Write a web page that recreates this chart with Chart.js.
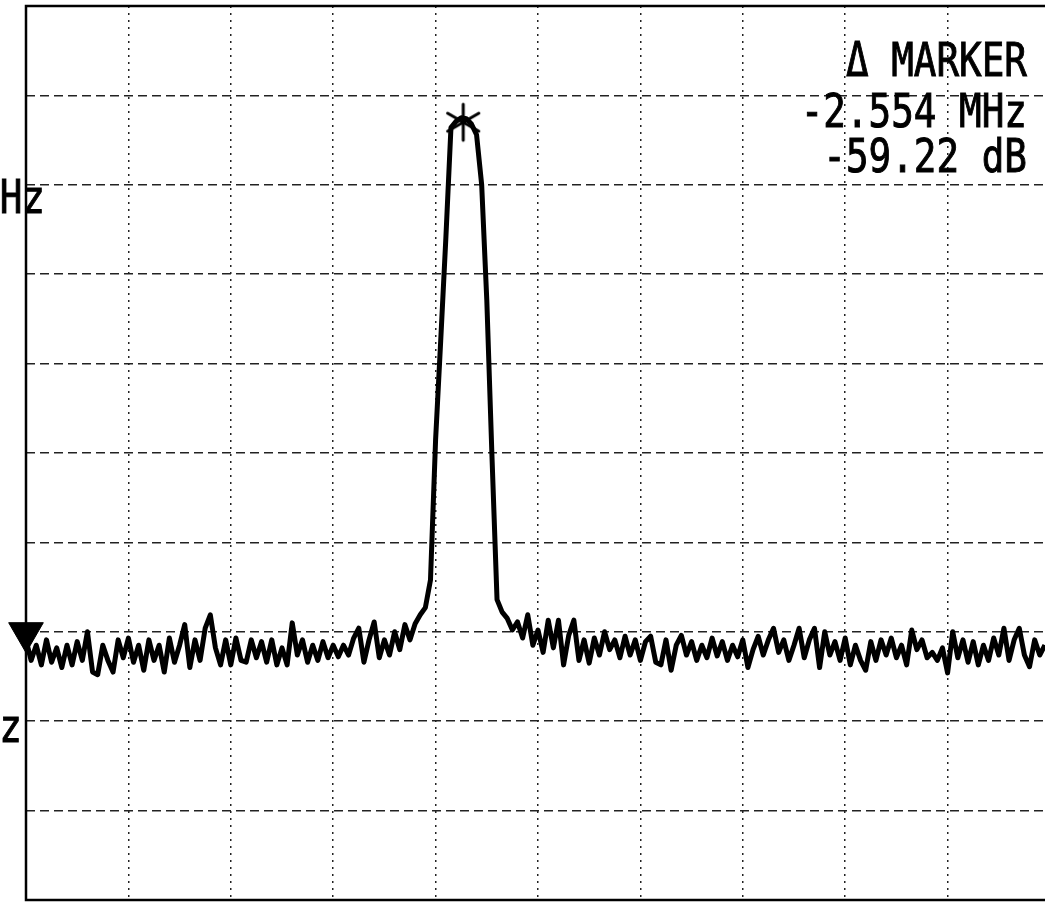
<!DOCTYPE html>
<html>
<head>
<meta charset="utf-8">
<script src="https://cdn.jsdelivr.net/npm/chart.js@4/dist/chart.umd.min.js"></script>
<style>
  html, body { margin: 0; padding: 0; background: #fff; overflow: hidden; }
  #wrap { width: 1060px; height: 905px; }
</style>
</head>
<body>
<div id="wrap"><canvas id="spectrum" width="1060" height="905"></canvas></div>
<script>
// screen is 10 x 10 divisions, 10 dB per division, top line is the reference level
var X_DIVS = 10;
var REF_LEVEL = 0;
var DB_PER_DIV = 10;
var SWEEP_STEP = 0.05; // divisions between trace samples

// trace levels (dB), one every SWEEP_STEP division
var traceDb = [
  -70.9, -73.2, -71.5, -73.7, -70.9, -73.4, -71.8, -74.0, -71.5, -73.7,
  -71.1, -73.2, -70.0, -74.5, -74.8, -71.5, -73.2, -74.5, -70.9, -72.9,
  -70.7, -73.4, -71.5, -74.3, -70.9, -73.2, -71.5, -74.5, -70.7, -73.4,
  -71.5, -69.2, -74.0, -70.9, -73.2, -69.6, -68.1, -71.8, -73.7, -70.9,
  -73.7, -70.7, -73.2, -73.4, -70.9, -72.9, -71.1, -73.4, -70.9, -73.7,
  -71.8, -73.7, -69.0, -72.6, -70.9, -73.4, -71.5, -73.2, -71.1, -72.9,
  -71.5, -72.8, -71.5, -72.6, -70.7, -69.6, -73.4, -70.9, -68.9, -72.9,
  -70.9, -72.6, -70.0, -72.0, -69.2, -70.9, -69.1, -68.1, -67.3, -64.2,
  -48.5, -37.4, -26.0, -13.6, -12.9, -12.5, -12.6, -13.2, -14.4, -20.0,
  -32.9, -50.2, -66.4, -67.8, -68.5, -69.8, -68.9, -70.7, -68.1, -71.5,
  -69.8, -72.3, -68.7, -71.8, -68.7, -73.7, -70.4, -68.7, -73.2, -70.9,
  -73.5, -70.7, -72.6, -70.0, -72.0, -70.9, -72.9, -70.5, -72.6, -70.9,
  -73.2, -71.1, -70.5, -73.4, -73.7, -70.9, -74.3, -71.5, -70.4, -72.6,
  -71.1, -73.2, -71.5, -72.9, -70.7, -72.7, -71.1, -73.2, -71.5, -72.8,
  -70.9, -74.0, -72.0, -70.5, -72.6, -70.9, -69.6, -72.3, -70.9, -73.2,
  -71.5, -69.6, -72.9, -70.9, -69.6, -74.0, -70.0, -72.6, -71.1, -73.2,
  -70.7, -73.7, -71.5, -73.2, -74.3, -71.1, -73.2, -70.9, -72.6, -70.7,
  -72.9, -71.5, -73.7, -69.8, -72.0, -70.9, -72.9, -72.3, -73.2, -71.8,
  -74.6, -70.0, -72.9, -70.9, -73.4, -71.1, -73.7, -71.5, -73.2, -70.7,
  -72.6, -69.6, -73.2, -70.9, -69.6, -72.6, -73.9, -70.9, -72.6, -71.5
];

// markers
var peakMarker = { x: 4.27, y: -13.0 };
var refMarker = { x: 0, y: -70.1 };

// readout texts
var markerLines = ['\u0394 MARKER', '-2.554 MHz', '-59.22 dB'];
var leftLabels = ['MHz', 'kHz'];

function traceData() {
  var pts = [];
  traceDb.forEach(function (v, i) {
    pts.push({ x: i * SWEEP_STEP, y: v });
  });
  return pts;
}

// asterisk used by the analyzer for the active marker
function makeAsterisk() {
  var c = document.createElement('canvas');
  c.width = 44; c.height = 44;
  var g = c.getContext('2d');
  g.strokeStyle = '#000';
  g.lineWidth = 3;
  g.lineCap = 'round';
  [90, 30, 150].forEach(function (deg) {
    var a = deg * Math.PI / 180;
    var dx = Math.cos(a) * 18, dy = Math.sin(a) * 18;
    g.beginPath();
    g.moveTo(22 - dx, 22 - dy);
    g.lineTo(22 + dx, 22 + dy);
    g.stroke();
  });
  return c;
}

var framePlugin = {
  id: 'frame',
  beforeDatasetsDraw: function (chart) {
    var a = chart.chartArea, ctx = chart.ctx;
    ctx.save();
    ctx.strokeStyle = '#000';
    ctx.lineWidth = 2.5;
    ctx.strokeRect(a.left, a.top, a.right - a.left, a.bottom - a.top);
    ctx.restore();
  }
};

var readoutPlugin = {
  id: 'readout',
  afterDraw: function (chart) {
    var ctx = chart.ctx;
    var sx = 0.8;
    ctx.save();
    ctx.fillStyle = '#000';
    ctx.strokeStyle = '#000';
    ctx.lineWidth = 1;
    ctx.font = "47px 'DejaVu Sans Mono'";
    ctx.textBaseline = 'alphabetic';
    ctx.textAlign = 'right';
    ctx.scale(sx, 1);
    var base = [76, 127, 172];
    markerLines.forEach(function (t, i) {
      ctx.fillText(t, 1027 / sx, base[i]);
      ctx.strokeText(t, 1027 / sx, base[i]);
    });
    ctx.fillText(leftLabels[0], 45 / sx, 213);
    ctx.strokeText(leftLabels[0], 45 / sx, 213);
    ctx.fillText(leftLabels[1], 22 / sx, 742);
    ctx.strokeText(leftLabels[1], 22 / sx, 742);
    ctx.restore();
  }
};

var config = {
  type: 'line',
  data: {
    datasets: [{
      label: 'trace',
      data: traceData(),
      borderColor: '#000',
      borderWidth: 5,
      borderJoinStyle: 'round',
      tension: 0,
      pointRadius: 0
    }, {
      label: 'marker',
      data: [peakMarker],
      showLine: false,
      pointStyle: makeAsterisk(),
      pointRadius: 20
    }, {
      label: 'ref',
      data: [refMarker],
      showLine: false,
      clip: false,
      pointStyle: 'triangle',
      rotation: 180,
      pointRadius: 20,
      backgroundColor: '#000',
      borderColor: '#000',
      borderWidth: 1
    }]
  },
  options: {
    responsive: false,
    animation: false,
    layout: { autoPadding: false, padding: { left: 26, top: 6, right: 10, bottom: 5 } },
    plugins: {
      legend: { display: false },
      tooltip: { enabled: false },
      title: { display: false }
    },
    scales: {
      x: {
        type: 'linear',
        min: 0,
        max: X_DIVS,
        ticks: { display: false, stepSize: 1 },
        grid: { color: '#222', lineWidth: 1.5, drawTicks: false },
        border: { display: false, dash: [2, 5] }
      },
      y: {
        type: 'linear',
        min: REF_LEVEL - 10 * DB_PER_DIV,
        max: REF_LEVEL,
        ticks: { display: false, stepSize: DB_PER_DIV },
        grid: { color: '#222', lineWidth: 1.5, drawTicks: false },
        border: { display: false, dash: [9, 5] }
      }
    }
  },
  plugins: [framePlugin, readoutPlugin]
};

var ctx = document.getElementById('spectrum');
window.myChart = new Chart(ctx, config);
</script>
</body>
</html>
